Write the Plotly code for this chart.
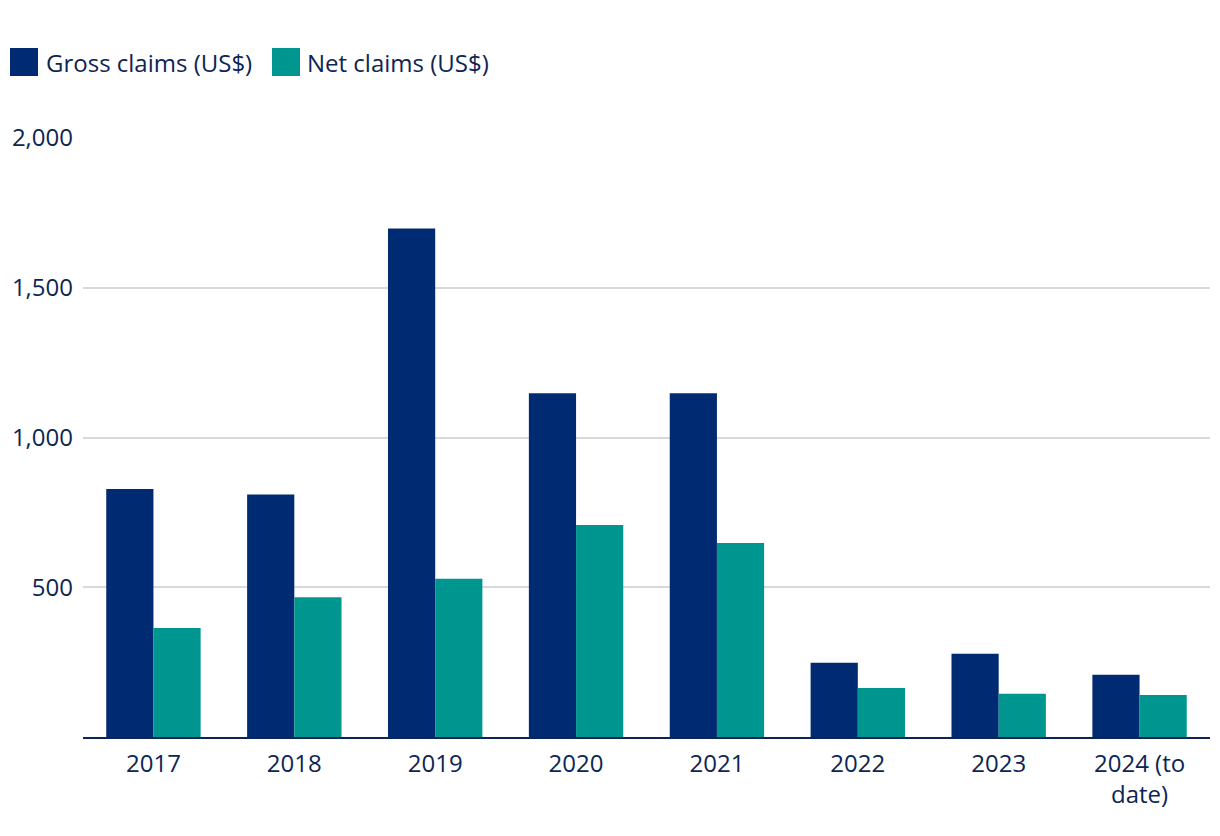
import plotly.graph_objects as go

categories = ["2017", "2018", "2019", "2020", "2021", "2022", "2023", "2024 (to<br>date)"]
gross = [828, 810, 1698, 1148, 1148, 248, 278, 208]
net = [364, 467, 528, 708, 648, 164, 144, 140]
series_names = ["Gross claims (US$)", "Net claims (US$)"]
colors = ["#002b73", "#009690"]
ytick_vals = [500, 1000, 1500, 2000]
ytick_text = ["500", "1,000", "1,500", "2,000"]

text_color = "#0d2554"
font_family = "Open Sans, Noto Sans, sans-serif"

fig = go.Figure()
fig.add_trace(go.Bar(x=categories, y=gross, name=series_names[0], marker_color=colors[0], marker_line_width=0))
fig.add_trace(go.Bar(x=categories, y=net, name=series_names[1], marker_color=colors[1], marker_line_width=0))

OFF = 8  # page body margin
W, H = 1220 - OFF, 836 - OFF
ml, mr, mt, mb = 83 - OFF, 10, 138 - OFF, 836 - 737

fig.update_layout(
    width=W, height=H,
    margin=dict(l=ml, r=mr, t=mt, b=mb, pad=0),
    barmode="group", bargap=0.33, bargroupgap=0,
    plot_bgcolor="white", paper_bgcolor="white",
    showlegend=False,
    font=dict(family=font_family, size=24, color=text_color),
    xaxis=dict(showgrid=False, showline=True, linecolor=text_color, linewidth=2,
               ticks="", ticklabelstandoff=4, tickfont=dict(size=24, color=text_color), automargin=False),
    yaxis=dict(range=[0, 2000], tickvals=ytick_vals, ticktext=ytick_text,
               showgrid=True, gridcolor="#d9d9d9", gridwidth=1.5, zeroline=False,
               showline=False, ticks="", ticklabelstandoff=9, tickfont=dict(size=24, color=text_color),
               automargin=False),
)

# Custom legend (large square swatches), positions given in page pixels
def px2paper_x(px):
    return (px - OFF - ml) / (W - ml - mr)

def px2paper_y(py):
    return (H - mb - (py - OFF)) / (H - mt - mb)

legend_items = [(10, 38, 44), (272, 300, 305)]
for (x0, x1, tx), name, col in zip(legend_items, series_names, colors):
    fig.add_shape(type="rect", xref="paper", yref="paper",
                  x0=px2paper_x(x0), x1=px2paper_x(x1),
                  y0=px2paper_y(76), y1=px2paper_y(48),
                  fillcolor=col, line_width=0)
    fig.add_annotation(xref="paper", yref="paper", x=px2paper_x(tx), y=px2paper_y(62),
                       text=name, showarrow=False, xanchor="left", yanchor="middle",
                       font=dict(size=24, color=text_color, family=font_family))

fig.write_html("out.html")
